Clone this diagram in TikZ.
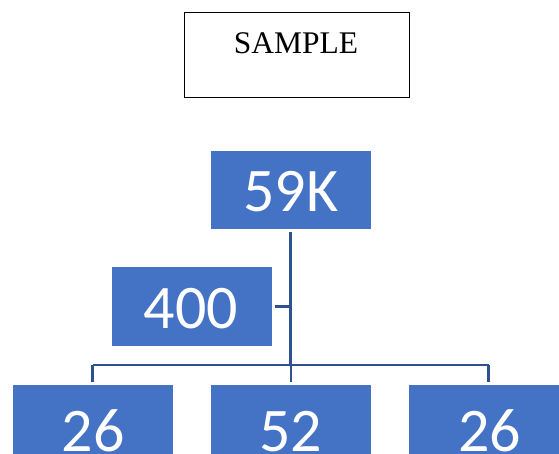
\documentclass[tikz,border=0pt]{standalone}
\usepackage{fontspec}
\setmainfont{Liberation Serif}
\newfontfamily\calfont{Carlito}
\definecolor{boxblue}{HTML}{4472C4}
\definecolor{linkblue}{HTML}{2F528F}
\tikzset{
  bluebox/.style={fill=boxblue, draw=none, minimum width=160pt, minimum height=78pt, inner sep=0pt},
  numtext/.style={anchor=base, text=white, inner sep=0pt, font=\calfont\fontsize{62}{62}\selectfont},
  link/.style={draw=linkblue, line width=2.2pt},
}
\begin{document}
\begin{tikzpicture}[x=1pt,y=-1pt]
\useasboundingbox (0,0) rectangle (559,454);
\clip (0,0) rectangle (559,454);
% title box
\node[draw=black, line width=1pt, minimum width=225pt, minimum height=85pt, inner sep=0pt] (sample) at (296.5,55.5) {};
\node[anchor=base, inner sep=0pt, font=\fontsize{31.5}{31.5}\selectfont] (sampletxt) at (296,54) {SAMPLE};
% boxes
\node[bluebox] (top) at (290.5,190) {};
\node[bluebox, minimum height=79pt] (side) at (192,306.5) {};
\node[bluebox] (c1) at (92.5,424) {};
\node[bluebox] (c2) at (291,424) {};
\node[bluebox] (c3) at (488.5,424) {};
% texts
\node[numtext] (ttop) at (291,212) {59K};
\node[numtext] (tside) at (191,328) {400};
\node[numtext] (tc1) at (93,451) {26};
\node[numtext] (tc2) at (290.5,451) {52};
\node[numtext] (tc3) at (489.5,451) {26};
% connectors
\coordinate (bus) at (290.5,365);
\draw[link, shorten <=3pt] (top.south) -- (top.south |- bus);
\draw[link] (c1.north |- bus) -- (c3.north |- bus);
\draw[link, shorten >=3pt] (c1.north |- bus) -- (c1.north);
\draw[link, shorten >=3pt] (c2.north |- bus) -- (c2.north);
\draw[link, shorten >=3pt] (c3.north |- bus) -- (c3.north);
\draw[link, shorten <=3pt] (side.east) -- (side.east -| top.south);
\end{tikzpicture}
\end{document}
